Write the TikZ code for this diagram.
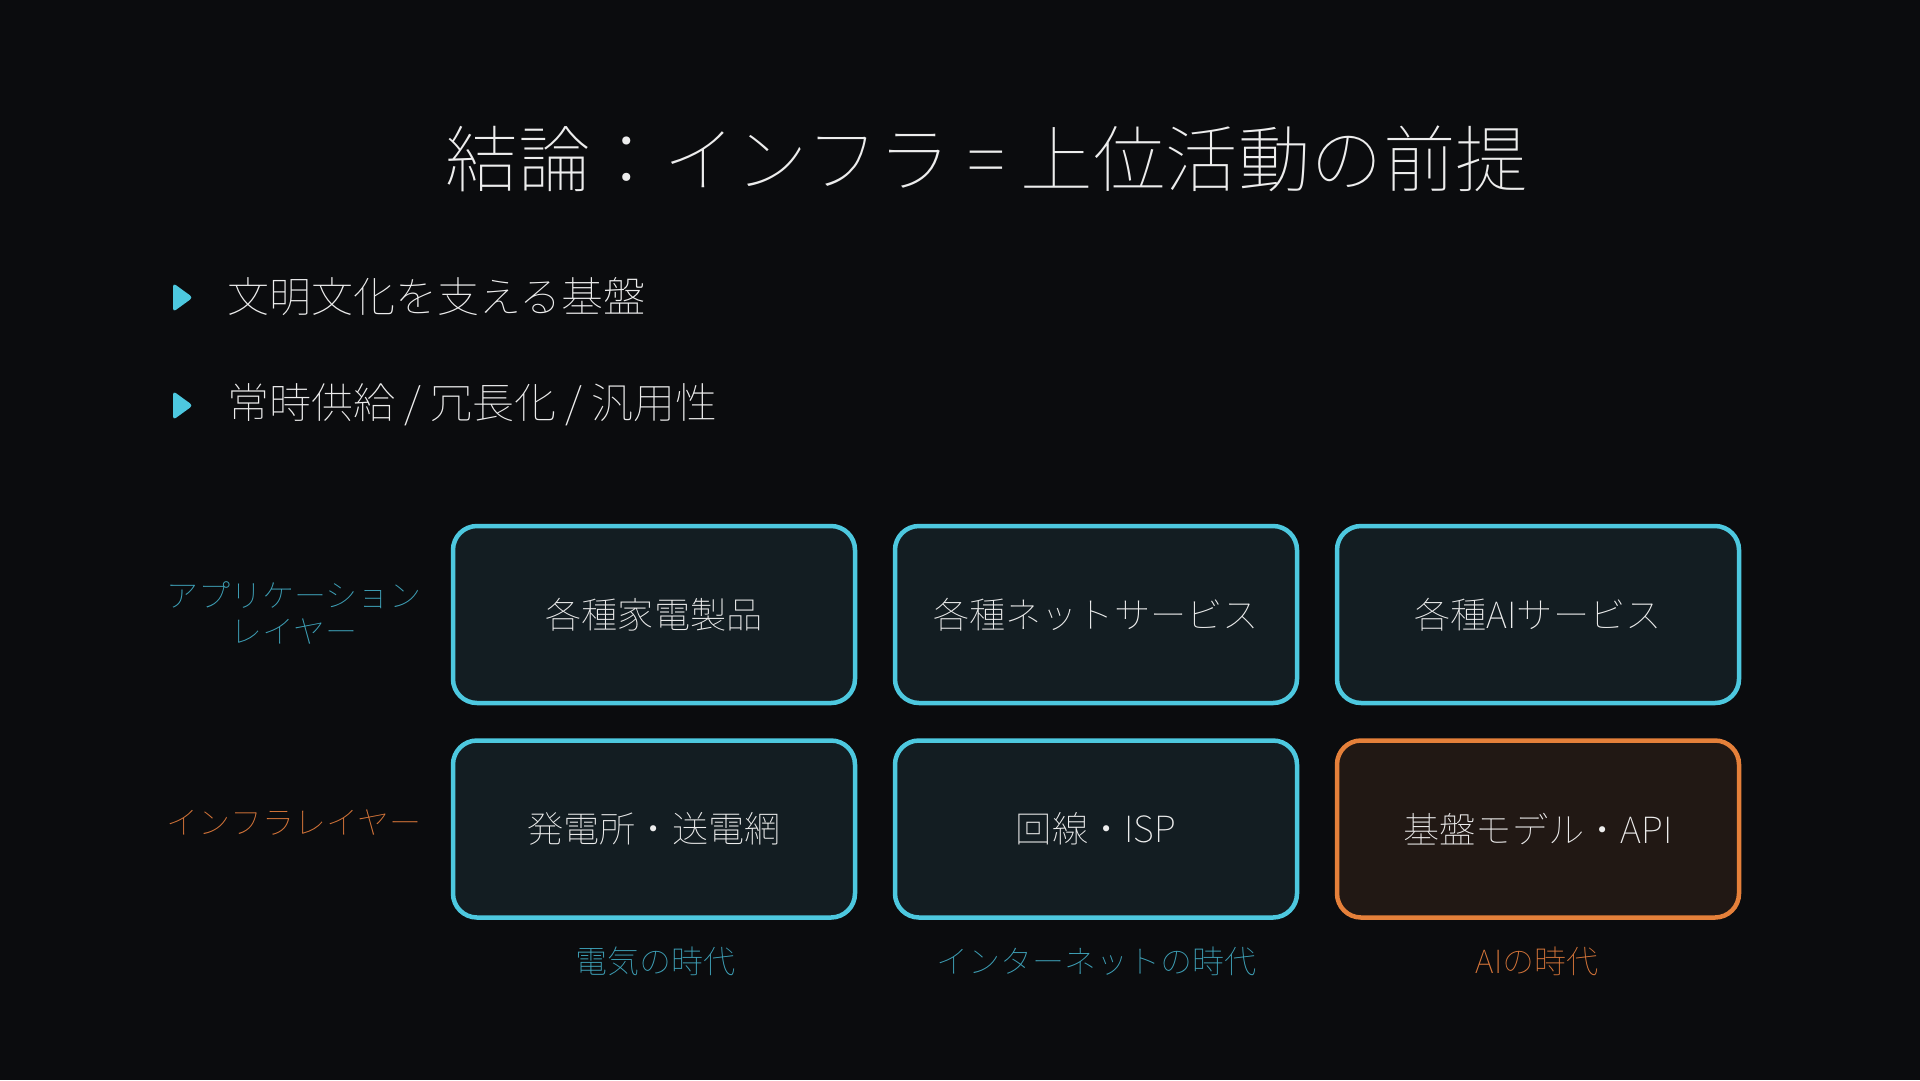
\documentclass[tikz,border=0pt]{standalone}
\usepackage{fontspec}
\setmainfont{Noto Sans CJK JP Thin}
\definecolor{bgc}{HTML}{0B0C0E}
\definecolor{cy}{HTML}{4DC8DF}
\definecolor{cylab}{HTML}{3FA3BA}
\definecolor{orb}{HTML}{E5803A}
\definecolor{orlab}{HTML}{D9773A}
\definecolor{cyfill}{HTML}{131D22}
\definecolor{orfill}{HTML}{211814}
\definecolor{txt}{HTML}{EDEDED}
\tikzset{
  box/.style={draw=cy, fill=cyfill, line width=4.5pt, rounded corners=24pt,
    minimum width=402pt, minimum height=177pt, text=txt, font=\fontsize{36.2}{40}\selectfont},
  obox/.style={box, draw=orb, fill=orfill},
  lab/.style={font=\fontsize{32}{36}\selectfont, align=center},
  bul/.style={font=\fontsize{42}{48}\selectfont, text=txt, anchor=west, inner sep=0pt},
}
\begin{document}
\begin{tikzpicture}[x=1pt,y=-1pt]
\fill[bgc] (0,0) rectangle (1920,1080);
\node[text=txt, font=\fontsize{72.5}{80}\selectfont] (title) at (987,159) {結論：インフラ = 上位活動の前提};
% bullets
\fill[cy, rounded corners=3.5pt] (173,283) -- (193,297.5) -- (173,312) -- cycle;
\node[bul] (b1) at (227,297) {文明文化を支える基盤};
\fill[cy, rounded corners=3.5pt] (173,391) -- (193,405.5) -- (173,420) -- cycle;
\node[bul] (b2) at (227,405) {常時供給 / 冗長化 / 汎用性};
% boxes
\node[box] (a1) at (654,614.5) {各種家電製品};
\node[box] (a2) at (1096,614.5) {各種ネットサービス};
\node[box] (a3) at (1538,614.5) {各種AIサービス};
\node[box] (i1) at (654,829) {発電所・送電網};
\node[box] (i2) at (1096,829) {回線・ISP};
\node[obox] (i3) at (1538,829) {基盤モデル・API};
% row labels
\node[lab, text=cylab] (rl1) at (294,613) {アプリケーション\\レイヤー};
\node[lab, text=orlab] (rl2) at (294,823) {インフラレイヤー};
% column labels
\node[lab, text=cylab] (c1) at (655,961) {電気の時代};
\node[lab, text=cylab] (c2) at (1096,961) {インターネットの時代};
\node[lab, text=orlab] (c3) at (1537,961) {AIの時代};
\end{tikzpicture}
\end{document}
